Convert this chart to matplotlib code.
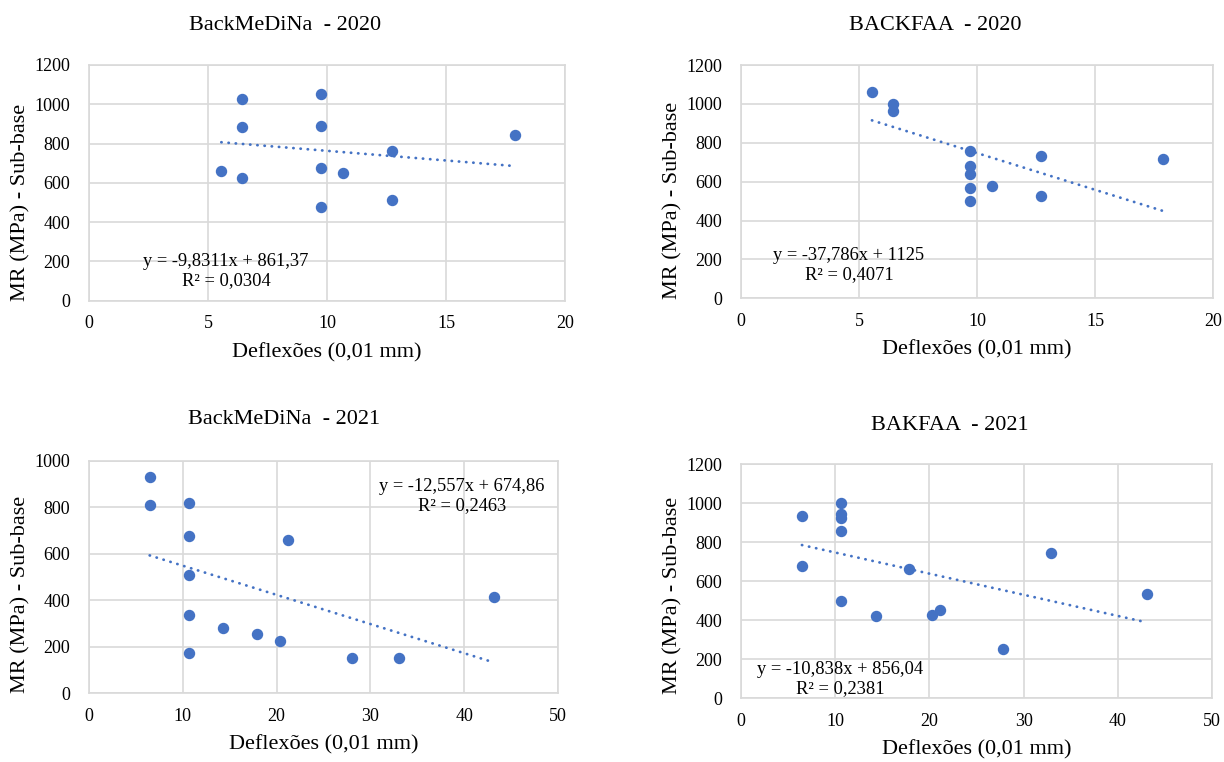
import numpy as np
import matplotlib
matplotlib.use('Agg')
import matplotlib.pyplot as plt

plt.rcParams['font.family'] = ['Liberation Serif', 'DejaVu Serif']

# --- data ---
titles = ['BackMeDiNa  - 2020', 'BACKFAA  - 2020', 'BackMeDiNa  - 2021', 'BAKFAA  - 2021']

x_med20 = [6.43, 9.74, 6.43, 9.74, 17.9, 12.75, 5.56, 6.43, 9.74, 10.67, 9.74, 12.75]
y_med20 = [1028, 1050, 882, 889, 843, 763, 658, 624, 677, 650, 478, 511]

x_faa20 = [5.55, 6.42, 6.42, 9.72, 12.72, 17.88, 9.72, 9.72, 9.72, 10.65, 12.72, 9.72]
y_faa20 = [1060, 999, 965, 759, 732, 718, 681, 638, 567, 579, 526, 499]

x_med21 = [6.47, 6.47, 10.63, 10.63, 21.18, 10.63, 43.2, 10.63, 14.32, 17.91, 20.36, 10.63, 28.0, 33.05]
y_med21 = [932, 810, 821, 675, 659, 509, 416, 338, 282, 255, 226, 172, 150, 150]

x_faa21 = [6.47, 6.47, 10.64, 10.64, 10.64, 10.64, 10.64, 14.28, 17.85, 20.29, 21.17, 27.85, 32.94, 43.1]
y_faa21 = [936, 678, 1003, 944, 926, 856, 499, 420, 665, 426, 453, 253, 744, 533]

# trendline (slope, intercept, r2) as printed on the chart
slopes = [-9.8311, -37.786, -12.557, -10.838]
intercepts = [861.37, 1125, 674.86, 856.04]
r2s = [0.0304, 0.4071, 0.2463, 0.2381]

xs = [x_med20, x_faa20, x_med21, x_faa21]
ys = [y_med20, y_faa20, y_med21, y_faa21]
xmax = [20, 20, 50, 50]
xstep = [5, 5, 10, 10]
ymax = [1200, 1200, 1000, 1200]

# --- layout (pixels on a 1224x762 canvas) ---
W, H = 1224, 762
boxes = [(89, 565, 65, 300.7), (741, 1213, 65, 298.3),
         (89, 558, 461, 693.3), (741, 1212, 464.3, 698.3)]
title_pos = [(285, 25), (935, 25), (284, 420), (950, 425)]
eq_pos = [(226, 271), (849, 265), (462, 496), (840, 679)]
ylab_x = [30, 682, 30, 682]      # right edge of rotated y label
ylab_y = [202, 200, 594, 595]    # centre of y label

blue = '#4472C4'
grid = '#d9d9d9'

fig = plt.figure(figsize=(W / 100, H / 100), dpi=100)

def fmt(v):
    return str(v).replace('.', ',')

for i in range(4):
    l, r, t, b = boxes[i]
    ax = fig.add_axes([l / W, 1 - b / H, (r - l) / W, (b - t) / H])
    ax.plot(xs[i], ys[i], 'o', color=blue, markersize=7.2, zorder=3)

    x0, x1 = min(xs[i]), max(xs[i])
    tx = np.array([x0, x1])
    ax.plot(tx, slopes[i] * tx + intercepts[i], color=blue, lw=2,
            linestyle=(0, (0.1, 2.5)), dash_capstyle='round', zorder=2)

    ax.set_xlim(0, xmax[i])
    ax.set_ylim(0, ymax[i])
    ax.set_xticks(np.arange(0, xmax[i] + 1, xstep[i]))
    ax.set_yticks(np.arange(0, ymax[i] + 1, 200))
    ax.grid(True, color=grid, lw=1.2)
    ax.set_axisbelow(True)
    for s in ax.spines.values():
        s.set_color(grid)
        s.set_linewidth(1.2)
    ax.tick_params(length=0, labelsize=13)
    ax.tick_params(axis='y', pad=13.5)
    ax.tick_params(axis='x', pad=10.5)

    ax.set_xlabel('Deflexões (0,01 mm)', fontsize=16)
    ax.set_ylabel('MR (MPa) - Sub-base', fontsize=16)
    ax.xaxis.set_label_coords(0.5, -0.18)
    ax.yaxis.set_label_coords((ylab_x[i] - l) / (r - l), (b - ylab_y[i]) / (b - t))

    tx_, ty_ = title_pos[i]
    fig.text(tx_ / W, 1 - ty_ / H, titles[i], fontsize=16, ha='center', va='center')

    ex, ey = eq_pos[i]
    eq = 'y = ' + fmt(slopes[i]) + 'x + ' + fmt(intercepts[i]) + '\nR² = ' + fmt(r2s[i])
    fig.text(ex / W, 1 - ey / H, eq, fontsize=13.3, ha='center', va='center',
             multialignment='center', linespacing=1.15)

plt.savefig('out.png', dpi=100)
